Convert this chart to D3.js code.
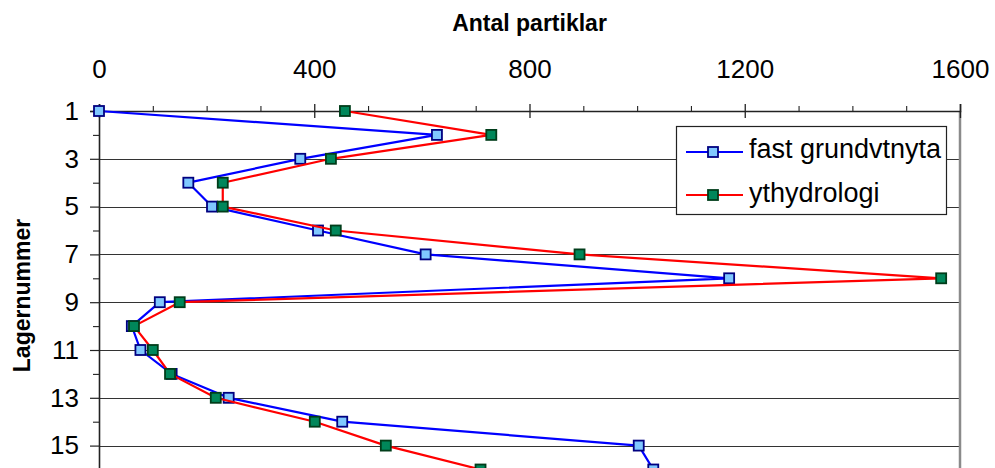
<!DOCTYPE html>
<html>
<head>
<meta charset="utf-8">
<script src="https://cdn.jsdelivr.net/npm/d3@7"></script>
<style>
  html, body { margin: 0; padding: 0; background: #fff; }
  svg { display: block; font-family: "Liberation Sans", Arial, sans-serif; }
</style>
</head>
<body>
<svg id="chart" width="995" height="468"></svg>
<script>
// Layer numbers (depth order) and particle counts per layer for each scenario
const layers = [1, 2, 3, 4, 5, 6, 7, 8, 9, 10, 11, 12, 13, 14, 15, 16];
const fastGrundvtnyta = [0, 628, 374, 166, 210, 407, 607, 1171, 113, 61, 77, 135, 241, 452, 1003, 1030];
const ythydrologi = [457, 729, 431, 230, 230, 440, 893, 1565, 150, 65, 100, 132, 217, 401, 533, 709];

const xMajorTicks = [0, 400, 800, 1200, 1600];
const xMinorTicks = [100, 200, 300, 500, 600, 700, 900, 1000, 1100, 1300, 1400, 1500];
const yMajorTicks = [1, 3, 5, 7, 9, 11, 13, 15];
const yMinorTicks = [2, 4, 6, 8, 10, 12, 14, 16];

const seriesList = [
  { name: "fast grundvtnyta", values: fastGrundvtnyta, line: "#0000ff", fill: "#80c8ff", stroke: "#000080" },
  { name: "ythydrologi", values: ythydrologi, line: "#ff0000", fill: "#00875a", stroke: "#003d1a" }
];

const svg = d3.select("#chart");
const plotLeft = 99, plotRight = 960, plotTop = 111, layerStep = 23.9;

const x = d3.scaleLinear().domain([0, 1600]).range([plotLeft, plotRight]);
const y = d3.scaleLinear().domain([1, 17]).range([plotTop, plotTop + 16 * layerStep]);

// Horizontal gridlines at odd layers
svg.append("g")
  .selectAll("line")
  .data(yMajorTicks.filter(v => v > 1))
  .join("line")
  .attr("x1", plotLeft).attr("x2", plotRight)
  .attr("y1", d => Math.round(y(d)) + 0.5).attr("y2", d => Math.round(y(d)) + 0.5)
  .attr("stroke", "#333").attr("stroke-width", 1);

// Right frame edge of the plot area
svg.append("line")
  .attr("x1", plotRight).attr("x2", plotRight)
  .attr("y1", plotTop).attr("y2", 468)
  .attr("stroke", "#8a8a8a").attr("stroke-width", 2.5);

// Top value axis
const xAxis = svg.append("g")
  .attr("transform", `translate(0,${plotTop})`)
  .call(d3.axisTop(x).tickValues(xMajorTicks).tickSize(7).tickPadding(26).tickFormat(d3.format("d")));
xAxis.select(".domain").attr("stroke", "#222").attr("stroke-width", 1.6);
xAxis.selectAll(".tick line").attr("y1", 7).attr("stroke", "#222").attr("stroke-width", 1.3);
xAxis.selectAll(".tick text")
  .attr("font-size", 26).attr("fill", "#000")
  .attr("font-family", "'Liberation Sans', Arial, sans-serif");

const xMinor = svg.append("g")
  .attr("transform", `translate(0,${plotTop})`)
  .call(d3.axisTop(x).tickValues(xMinorTicks).tickSize(5).tickFormat(""));
xMinor.select(".domain").remove();
xMinor.selectAll(".tick line").attr("stroke", "#222").attr("stroke-width", 1.1);

// Left layer axis
const yAxis = svg.append("g")
  .attr("transform", `translate(${plotLeft},0)`)
  .call(d3.axisLeft(y).tickValues(yMajorTicks).tickSize(9).tickPadding(11).tickFormat(d3.format("d")));
yAxis.select(".domain").attr("stroke", "#222").attr("stroke-width", 1.6);
yAxis.selectAll(".tick line").attr("stroke", "#222").attr("stroke-width", 1.2);
yAxis.selectAll(".tick text")
  .attr("font-size", 26).attr("fill", "#000")
  .attr("font-family", "'Liberation Sans', Arial, sans-serif");

const yMinor = svg.append("g")
  .attr("transform", `translate(${plotLeft},0)`)
  .call(d3.axisLeft(y).tickValues(yMinorTicks).tickSize(6).tickFormat(""));
yMinor.select(".domain").remove();
yMinor.selectAll(".tick line").attr("stroke", "#222").attr("stroke-width", 1.1);

// Axis titles
svg.append("text")
  .attr("x", (plotLeft + plotRight) / 2).attr("y", 31)
  .attr("text-anchor", "middle")
  .attr("font-size", 23).attr("font-weight", "bold")
  .text("Antal partiklar");

svg.append("text")
  .attr("transform", "translate(30,295.5) rotate(-90)")
  .attr("text-anchor", "middle")
  .attr("font-size", 23).attr("font-weight", "bold")
  .text("Lagernummer");

// Series: line then markers, one series after the other
const lineGen = d3.line().x(d => x(d.v)).y(d => y(d.layer));
const mk = 10;

seriesList.forEach(s => {
  const pts = layers.map((layer, i) => ({ layer, v: s.values[i] }));
  const g = svg.append("g");
  g.append("path")
    .datum(pts)
    .attr("d", lineGen)
    .attr("fill", "none")
    .attr("stroke", s.line)
    .attr("stroke-width", 2.2)
    .attr("stroke-linejoin", "round");
  g.selectAll("rect")
    .data(pts)
    .join("rect")
    .attr("x", d => x(d.v) - mk / 2)
    .attr("y", d => y(d.layer) - mk / 2)
    .attr("width", mk).attr("height", mk)
    .attr("fill", s.fill)
    .attr("stroke", s.stroke)
    .attr("stroke-width", 1.8);
});

// Legend
const legend = svg.append("g");
legend.append("rect")
  .attr("x", 676.5).attr("y", 126.5)
  .attr("width", 270).attr("height", 88)
  .attr("fill", "#fff").attr("stroke", "#222").attr("stroke-width", 1.2);

const rowsY = [152, 195];
const baseY = [157.5, 201.5];
seriesList.forEach((s, i) => {
  const r = legend.append("g");
  r.append("line")
    .attr("x1", 686).attr("x2", 743)
    .attr("y1", rowsY[i]).attr("y2", rowsY[i])
    .attr("stroke", s.line).attr("stroke-width", 2.2);
  r.append("rect")
    .attr("x", 713 - mk / 2).attr("y", rowsY[i] - mk / 2)
    .attr("width", mk).attr("height", mk)
    .attr("fill", s.fill).attr("stroke", s.stroke).attr("stroke-width", 1.8);
  r.append("text")
    .attr("x", 749).attr("y", baseY[i])
    .attr("font-size", 27)
    .text(s.name);
});
</script>
</body>
</html>
